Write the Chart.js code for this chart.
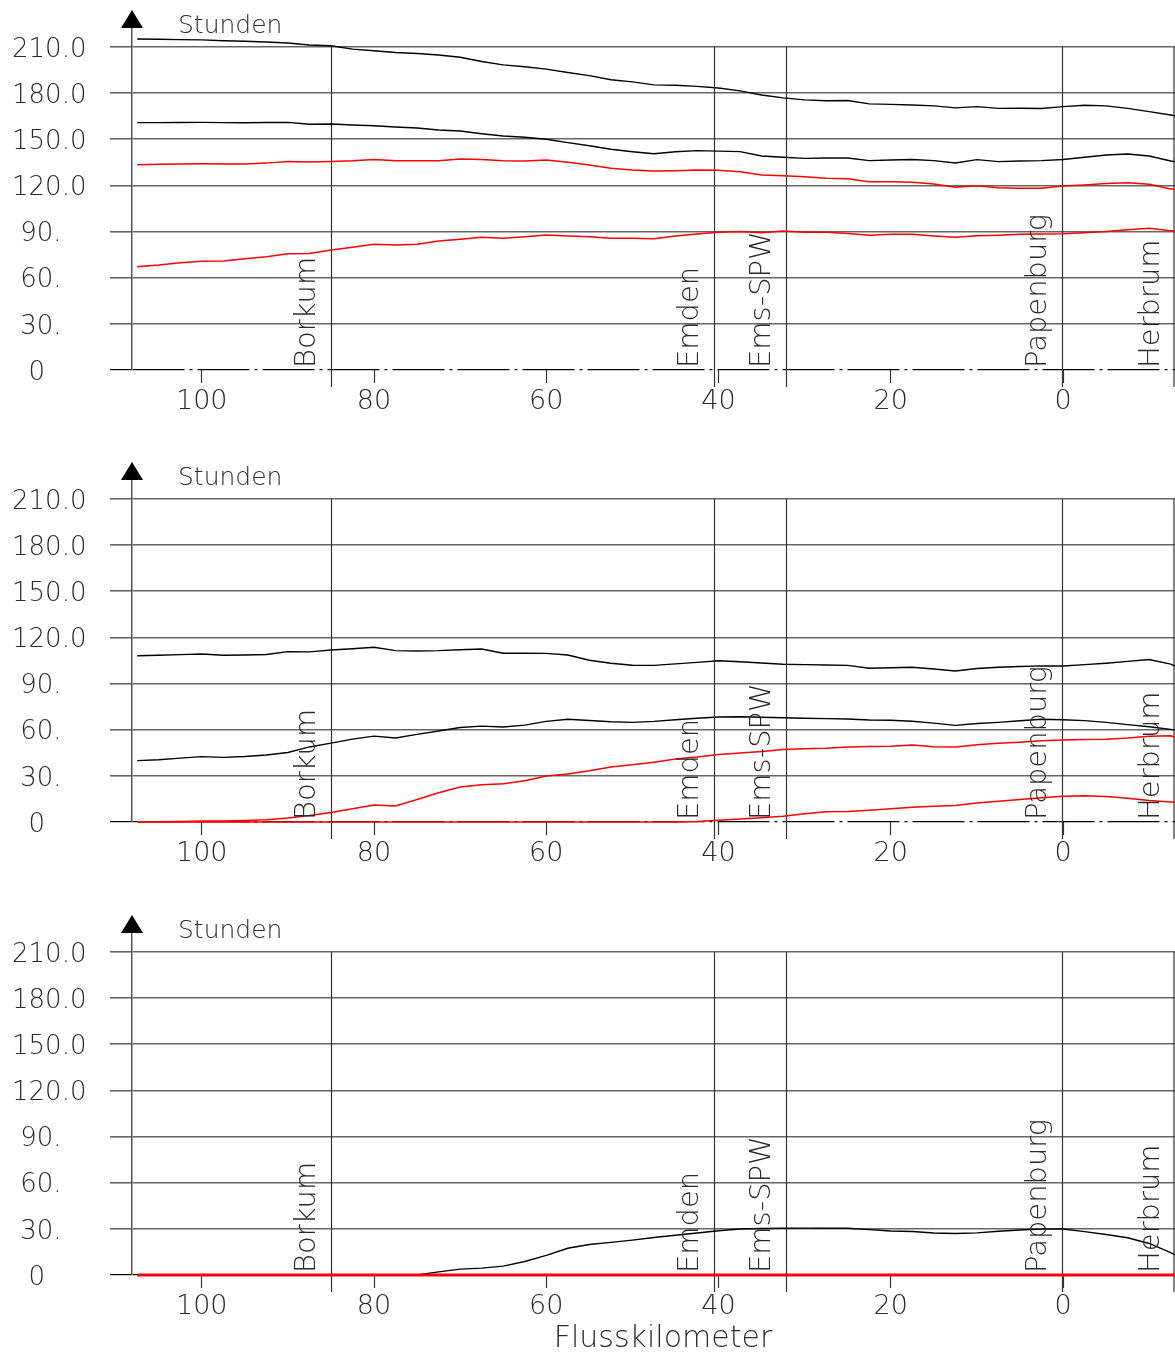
<!DOCTYPE html>
<html>
<head>
<meta charset="utf-8">
<title>Stunden je Flusskilometer</title>
<script src="https://cdn.jsdelivr.net/npm/chart.js@4.4.1/dist/chart.umd.min.js"></script>
<style>
  html, body { margin: 0; padding: 0; background: #fff; }
  #wrap { position: relative; width: 1175px; height: 1352px; }
  canvas { position: absolute; left: 0; }
</style>
</head>
<body>
<div id="wrap">
  <canvas id="panel1" width="1175" height="452" style="top:0px"></canvas>
  <canvas id="panel2" width="1175" height="453" style="top:452px"></canvas>
  <canvas id="panel3" width="1175" height="447" style="top:905px"></canvas>
</div>
<script>
// Flusskilometer (x values shared by all curves)
const kmPoints = [107.5, 105, 102.5, 100, 97.5, 95, 92.5, 90, 87.5, 85,
  82.5, 80, 77.5, 75, 72.5, 70, 67.5, 65, 62.5, 60,
  57.5, 55, 52.5, 50, 47.5, 45, 42.5, 40, 37.5, 35,
  32.5, 30, 27.5, 25, 22.5, 20, 17.5, 15, 12.5, 10,
  7.5, 5, 2.5, 0, -2.5, -5, -7.5, -10, -12.5, -13];

// panel 1
const p1Black1 = [215.2, 215.0, 214.8, 214.6, 214.1, 213.7, 213.2, 212.6, 211.3, 210.8,
  208.6, 207.6, 206.4, 205.8, 204.8, 203.3, 200.6, 198.4, 197.2, 195.6,
  193.4, 191.4, 188.7, 187.3, 185.4, 185.1, 184.4, 183.3, 181.5, 178.8,
  176.9, 175.6, 175.1, 175.2, 173.0, 172.7, 172.3, 171.7, 170.4, 171.2,
  170.1, 170.2, 170.0, 171.2, 172.1, 171.7, 170.1, 168.0, 165.8, 165.3];
const p1Black2 = [160.8, 160.8, 160.9, 161.0, 160.8, 160.7, 160.9, 161.0, 159.8, 159.9,
  159.3, 158.8, 158.0, 157.3, 156.0, 155.4, 153.6, 152.1, 151.3, 150.0,
  147.8, 145.8, 143.5, 141.9, 140.6, 141.9, 142.6, 142.3, 142.0, 139.1,
  138.3, 137.6, 137.8, 137.8, 136.1, 136.5, 136.9, 136.1, 134.6, 136.8,
  135.5, 135.9, 136.1, 136.9, 138.3, 139.8, 140.4, 139.1, 135.9, 135.5];
const p1Red1 = [133.5, 133.7, 134.0, 134.1, 134.0, 133.9, 134.5, 135.6, 135.2, 135.6,
  136.0, 136.9, 136.0, 136.0, 136.0, 137.2, 136.9, 136.0, 135.9, 136.5,
  135.0, 133.3, 131.1, 130.0, 129.4, 129.6, 130.0, 129.8, 128.9, 126.8,
  126.3, 125.7, 124.6, 124.3, 122.4, 122.4, 122.0, 120.9, 118.8, 119.8,
  118.5, 118.1, 118.1, 119.6, 120.3, 121.3, 121.8, 120.7, 117.7, 117.5];
const p1Red2 = [67.2, 68.3, 69.8, 70.7, 70.9, 72.4, 73.7, 75.6, 75.8, 78.0,
  79.8, 81.8, 81.3, 81.7, 83.9, 85.0, 86.3, 85.6, 86.7, 87.8,
  87.1, 86.7, 85.6, 85.6, 85.4, 87.1, 88.4, 89.5, 90.0, 89.3,
  90.4, 89.5, 89.5, 88.8, 87.6, 88.2, 88.2, 87.1, 86.3, 87.3,
  87.6, 88.2, 88.4, 88.6, 89.3, 90.0, 91.2, 92.1, 90.6, 90.5];

// panel 2
const p2Black1 = [108.1, 108.4, 108.8, 109.2, 108.4, 108.6, 108.9, 110.8, 110.6, 111.8,
  112.6, 113.6, 111.4, 111.2, 111.4, 112.0, 112.5, 109.7, 109.7, 109.6,
  108.6, 105.2, 103.2, 101.9, 101.8, 102.8, 103.8, 104.8, 104.2, 103.4,
  102.6, 102.3, 102.1, 101.8, 100.0, 100.3, 100.6, 99.5, 98.2, 99.8,
  100.6, 101.1, 101.5, 101.4, 102.3, 103.2, 104.4, 105.6, 102.6, 101.4];
const p2Black2 = [39.9, 40.5, 41.5, 42.5, 42.0, 42.6, 43.6, 45.2, 48.8, 51.3,
  53.9, 55.8, 54.6, 57.0, 59.2, 61.4, 62.3, 61.8, 63.0, 65.4,
  66.8, 66.0, 65.2, 64.8, 65.4, 66.5, 67.5, 68.3, 68.4, 68.1,
  67.8, 67.5, 67.2, 67.0, 66.3, 66.2, 65.5, 64.3, 62.8, 64.0,
  64.8, 65.8, 66.8, 66.5, 65.9, 64.8, 63.3, 61.9, 60.2, 59.9];
const p2Red1 = [0.2, 0.2, 0.3, 0.6, 0.6, 1.0, 1.5, 2.6, 4.3, 6.2,
  8.6, 11.0, 10.4, 14.6, 19.0, 22.8, 24.2, 24.8, 26.8, 29.9,
  31.2, 33.3, 35.8, 37.2, 38.9, 40.9, 42.2, 43.9, 44.9, 45.9,
  47.1, 47.6, 47.9, 48.7, 49.1, 49.3, 50.0, 49.0, 48.8, 50.3,
  51.2, 51.9, 52.8, 53.3, 53.6, 53.8, 54.6, 55.8, 56.0, 55.0];
const p2Red2 = [0, 0, 0, 0, 0, 0, 0, 0, 0, 0,
  0, 0, 0, 0, 0, 0, 0, 0, 0, 0,
  0, 0, 0, 0, 0, 0, 0.4, 1.2, 2.0, 2.8,
  3.7, 5.3, 6.7, 6.9, 7.6, 8.6, 9.6, 10.2, 10.8, 12.3,
  13.5, 14.6, 15.8, 16.7, 17.0, 16.6, 15.5, 14.0, 13.0, 12.8];

// panel 3
const p3Black = [0, 0, 0, 0, 0, 0, 0, 0, 0, 0,
  0, 0, 0, 0, 2.0, 3.8, 4.5, 5.8, 8.8, 12.8,
  17.4, 19.8, 21.2, 22.7, 24.4, 25.8, 27.3, 28.8, 29.9, 30.2,
  30.4, 30.5, 30.4, 30.4, 29.5, 28.6, 28.3, 27.3, 27.0, 27.4,
  28.4, 29.3, 29.8, 29.9, 28.2, 26.3, 24.2, 20.5, 14.5, 13.0];
const p3Red = [0, 0, 0, 0, 0, 0, 0, 0, 0, 0,
  0, 0, 0, 0, 0, 0, 0, 0, 0, 0,
  0, 0, 0, 0, 0, 0, 0, 0, 0, 0,
  0, 0, 0, 0, 0, 0, 0, 0, 0, 0,
  0, 0, 0, 0, 0, 0, 0, 0, 0, 0];

// axes
const yTickValues = [0, 30, 60, 90, 120, 150, 180, 210];
const yTickLabels = ['  0', ' 30.', ' 60.', ' 90.', '120.0', '150.0', '180.0', '210.0'];
const xTickValues = [100, 80, 60, 40, 20, 0];
const locationNames = ['Borkum', 'Emden', 'Ems-SPW', 'Papenburg', 'Herbrum'];
const locationKm = [85.0, 40.5, 32.2, 0.1, -13.0];

const FONT = 'DejaVu Sans';
const WEIGHT = '200';
const TEXT = '#2b2b2b';

function series(values) {
    return values.map((v, i) => ({x: kmPoints[i], y: v}));
}

function line(values, color, width, order) {
    return {
        data: series(values),
        borderColor: color,
        borderWidth: width,
        pointRadius: 0,
        tension: 0,
        fill: false,
        clip: 4,
        order: order
    };
}

function font(size) {
    return WEIGHT + ' ' + size + 'px "' + FONT + '"';
}

// arrow, "Stunden", location lines + labels, x title
const decor = {
    id: 'decor',
    beforeDatasetsDraw(chart) {
        const {ctx, scales: {x, y}} = chart;
        ctx.save();
        ctx.strokeStyle = '#333';
        ctx.lineWidth = 1.2;
        locationKm.forEach(km => {
            const px = Math.min(Math.round(x.getPixelForValue(km)) + 0.5, chart.width - 1);
            ctx.beginPath();
            ctx.moveTo(px, y.getPixelForValue(210));
            ctx.lineTo(px, y.getPixelForValue(0) + 17);
            ctx.stroke();
        });
        ctx.restore();
    },
    afterDraw(chart, args, opts) {
        const {ctx, chartArea, scales: {x, y}} = chart;
        const ax = chartArea.left;
        ctx.save();
        // arrow on y axis
        ctx.fillStyle = '#000';
        ctx.beginPath();
        ctx.moveTo(ax, chartArea.top - 18);
        ctx.lineTo(ax - 11, chartArea.top);
        ctx.lineTo(ax + 11, chartArea.top);
        ctx.closePath();
        ctx.fill();

        ctx.fillStyle = TEXT;
        ctx.font = font(25);
        ctx.textAlign = 'left';
        ctx.textBaseline = 'alphabetic';
        ctx.fillText('Stunden', 178, chartArea.top + 5);

        // location names, rotated
        ctx.font = font(29);
        const y0 = y.getPixelForValue(0);
        locationNames.forEach((name, i) => {
            const px = x.getPixelForValue(locationKm[i]);
            ctx.save();
            ctx.translate(px - 16, y0 - 2);
            ctx.rotate(-Math.PI / 2);
            ctx.fillText(name, 0, 0);
            ctx.restore();
        });

        if (opts.xTitle) {
            ctx.font = font(30);
            ctx.textAlign = 'center';
            ctx.fillText(opts.xTitle, 663, chart.height - 5);
        }
        ctx.restore();
    }
};

function makePanel(id, datasets, xTitle) {
    const canvas = document.getElementById(id);
    const h = canvas.height;
    return new Chart(canvas, {
        type: 'line',
        data: {datasets: datasets},
        plugins: [decor],
        options: {
            responsive: false,
            animation: false,
            devicePixelRatio: 1,
            layout: {padding: {left: 12, right: 0, top: 28, bottom: 0}},
            plugins: {
                legend: {display: false},
                tooltip: {enabled: false},
                decor: {xTitle: xTitle}
            },
            scales: {
                x: {
                    type: 'linear',
                    reverse: true,
                    min: -13,
                    max: 108.1,
                    afterBuildTicks: s => { s.ticks = xTickValues.map(v => ({value: v})); },
                    afterFit: s => { s.height = h - 370; },
                    grid: {
                        drawOnChartArea: false,
                        drawTicks: true,
                        tickLength: 13,
                        tickColor: '#333',
                        tickWidth: 1.2
                    },
                    border: {display: false},
                    ticks: {
                        padding: 3,
                        color: TEXT,
                        font: {family: FONT, size: 27, weight: WEIGHT},
                        maxRotation: 0,
                        callback: v => String(v)
                    }
                },
                y: {
                    min: 0,
                    max: 222.35,
                    afterBuildTicks: s => { s.ticks = yTickValues.map(v => ({value: v})); },
                    afterFit: s => { s.width = 120; },
                    grid: {
                        color: c => (c.tick && c.tick.value === 0) ? '#000' : '#666',
                        lineWidth: c => (c.tick && c.tick.value === 0) ? 1.2 : 1.6,
                        tickLength: 22,
                        tickColor: c => (c.tick && c.tick.value === 0) ? '#000' : '#666'
                    },
                    border: {
                        display: true,
                        color: '#555',
                        width: 1.5,
                        dash: c => (c.tick && c.tick.value === 0) ? [52, 5, 3, 5] : []
                    },
                    ticks: {
                        crossAlign: 'far',
                        labelOffset: 3,
                        color: TEXT,
                        font: {family: FONT, size: 26, weight: WEIGHT},
                        callback: v => yTickLabels[yTickValues.indexOf(v)]
                    }
                }
            }
        }
    });
}

makePanel('panel1', [
    line(p1Red1, '#ff0000', 1.5, 0),
    line(p1Red2, '#ff0000', 1.5, 0),
    line(p1Black1, '#000000', 1.4, 1),
    line(p1Black2, '#000000', 1.4, 1)
]);

makePanel('panel2', [
    line(p2Red1, '#ff0000', 1.5, 0),
    line(p2Red2, '#ff0000', 1.5, 0),
    line(p2Black1, '#000000', 1.4, 1),
    line(p2Black2, '#000000', 1.4, 1)
]);

makePanel('panel3', [
    line(p3Red, '#ff0000', 3, 0),
    line(p3Black, '#000000', 1.4, 1)
], 'Flusskilometer');
</script>
</body>
</html>
